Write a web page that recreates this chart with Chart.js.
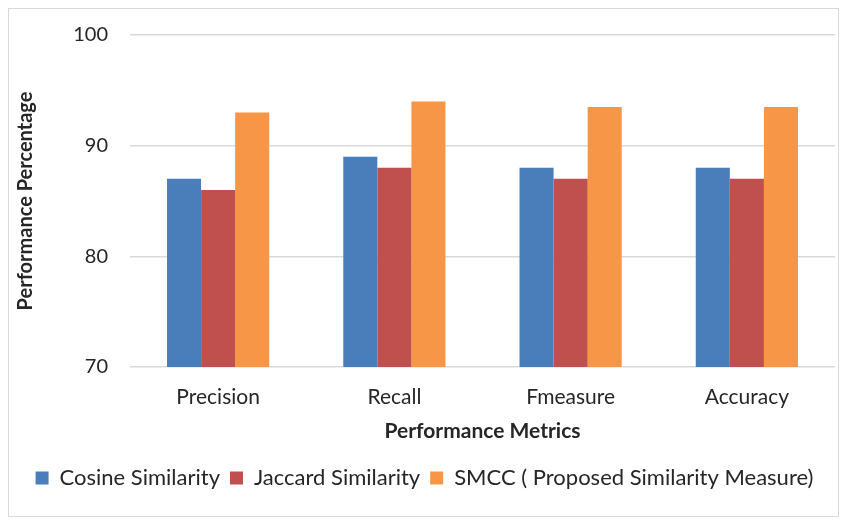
<!DOCTYPE html>
<html>
<head>
<meta charset="utf-8">
<script src="https://cdn.jsdelivr.net/npm/chart.js@4"></script>
<style>
  html, body { margin: 0; padding: 0; background: #fff; }
  #wrap { position: relative; width: 849px; height: 527px; }
  #frame { position: absolute; left: 8px; top: 8px; width: 831px; height: 509px; border: 1px solid #d9d9d9; box-sizing: border-box; }
  canvas { position: absolute; left: 0; top: 0; }
</style>
</head>
<body>
<div id="wrap">
  <div id="frame"></div>
  <canvas id="chart" width="849" height="527"></canvas>
</div>
<script>
const categories = ['Precision', 'Recall', 'Fmeasure', 'Accuracy'];
const cosineValues = [87, 89, 88, 88];
const jaccardValues = [86, 88, 87, 87];
const smccValues = [93, 94, 93.5, 93.5];
const yTicks = [70, 80, 90, 100];

const fontFamily = "Lato, 'Open Sans', sans-serif";

const ctx = document.getElementById('chart').getContext('2d');
new Chart(ctx, {
    type: 'bar',
    data: {
        labels: categories,
        datasets: [
            { label: 'Cosine Similarity', data: cosineValues, backgroundColor: '#4a7ebb' },
            { label: 'Jaccard Similarity', data: jaccardValues, backgroundColor: '#c0504d' },
            { label: 'SMCC ( Proposed Similarity Measure)', data: smccValues, backgroundColor: '#f79646' }
        ]
    },
    options: {
        responsive: false,
        animation: false,
        datasets: { bar: { categoryPercentage: 0.58, barPercentage: 1.0 } },
        layout: { padding: { left: 14, right: 14, top: 35, bottom: 28 } },
        plugins: {
            tooltip: { enabled: false },
            legend: {
                position: 'bottom',
                labels: {
                    color: '#262626',
                    font: { family: fontFamily, size: 22 },
                    boxWidth: 13,
                    boxHeight: 13,
                    padding: 10
                }
            }
        },
        scales: {
            x: {
                grid: { display: false },
                border: { display: false },
                ticks: { color: '#262626', font: { family: fontFamily, size: 21 }, padding: 10 },
                title: {
                    display: true,
                    text: 'Performance Metrics',
                    color: '#262626',
                    font: { family: fontFamily, size: 21, weight: 'bold' },
                    padding: { top: 6, bottom: 13 }
                },
                afterFit: (scale) => { scale.height = 90; }
            },
            y: {
                min: 70,
                max: 100,
                afterBuildTicks: (scale) => { scale.ticks = yTicks.map(v => ({ value: v })); },
                grid: { color: '#d9d9d9', lineWidth: 1.5, drawTicks: false },
                border: { display: false },
                ticks: { color: '#262626', font: { family: fontFamily, size: 20 }, padding: 22 },
                title: {
                    display: true,
                    text: 'Performance Percentage',
                    color: '#262626',
                    font: { family: fontFamily, size: 20, weight: 'bold' },
                    padding: { top: 0, bottom: 0 }
                },
                afterFit: (scale) => { scale.width = 116; }
            }
        }
    }
});
</script>
</body>
</html>
